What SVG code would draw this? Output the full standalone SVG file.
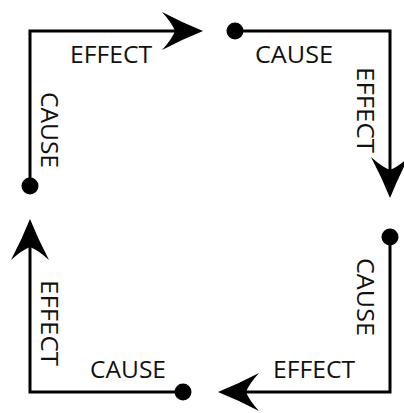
<svg xmlns="http://www.w3.org/2000/svg" width="404" height="413" viewBox="0 0 404 413">
  <style>
    .conn { fill: none; stroke: #000; stroke-width: 3; stroke-linejoin: miter; marker-start: url(#dot); marker-end: url(#arrow); }
    .lbl { font-family: "Open Sans", "Liberation Sans", sans-serif; font-size: 24px; fill: #111; }
  </style>
  <defs>
    <marker id="arrow" viewBox="-42 -22 46 44" markerWidth="46" markerHeight="44" refX="-27" refY="0" orient="auto" markerUnits="userSpaceOnUse">
      <path d="M1,0 Q-19,-8 -40,-19 Q-30,-8 -27,0 Q-30,8 -40,19 Q-19,8 1,0 Z" fill="#000"/>
    </marker>
    <marker id="dot" viewBox="-10 -10 20 20" markerWidth="20" markerHeight="20" refX="0" refY="0" markerUnits="userSpaceOnUse">
      <circle cx="0" cy="0" r="8.5" fill="#000"/>
    </marker>
  </defs>
  <rect width="404" height="413" fill="#fff"/>
  <g id="connectors">
    <path class="conn" d="M30,186 L30,31 L175,31"/>
    <path class="conn" d="M235,31 L390,31 L390,170"/>
    <path class="conn" d="M390,237 L390,392 L246,392"/>
    <path class="conn" d="M183,392 L30,392 L30,247"/>
  </g>
  <g id="label-effect-top">
    <text class="lbl" x="70" y="63" textLength="82" lengthAdjust="spacingAndGlyphs">EFFECT</text>
  </g>
  <g id="label-cause-top">
    <text class="lbl" x="255" y="63" textLength="78" lengthAdjust="spacingAndGlyphs">CAUSE</text>
  </g>
  <g id="label-effect-right">
    <text class="lbl" transform="translate(357,67) rotate(90)" x="0" y="0" textLength="86" lengthAdjust="spacingAndGlyphs">EFFECT</text>
  </g>
  <g id="label-cause-right">
    <text class="lbl" transform="translate(357,258) rotate(90)" x="0" y="0" textLength="78" lengthAdjust="spacingAndGlyphs">CAUSE</text>
  </g>
  <g id="label-effect-bottom">
    <text class="lbl" x="273" y="378" textLength="82" lengthAdjust="spacingAndGlyphs">EFFECT</text>
  </g>
  <g id="label-cause-bottom">
    <text class="lbl" x="90" y="378" textLength="76" lengthAdjust="spacingAndGlyphs">CAUSE</text>
  </g>
  <g id="label-effect-left">
    <text class="lbl" transform="translate(41,280) rotate(90)" x="0" y="0" textLength="86" lengthAdjust="spacingAndGlyphs">EFFECT</text>
  </g>
  <g id="label-cause-left">
    <text class="lbl" transform="translate(41,92) rotate(90)" x="0" y="0" textLength="76" lengthAdjust="spacingAndGlyphs">CAUSE</text>
  </g>
</svg>
